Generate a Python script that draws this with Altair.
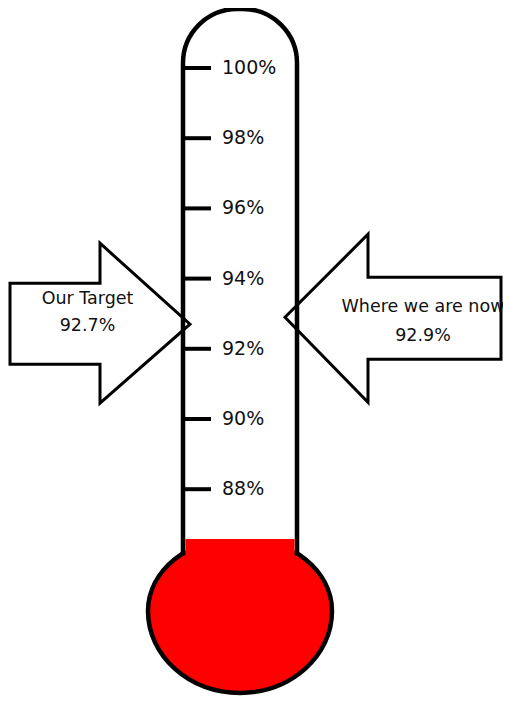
import altair as alt
import pandas as pd

# ---------------- data ----------------
tick_values = [88, 90, 92, 94, 96, 98, 100]
arrow_names = ["Our Target", "Where we are now"]
arrow_values = [92.7, 92.9]
arrow_sides = ["left", "right"]

# ---------------- layout (page pixels) ----------------
W, H = 495, 688
M = 8
K = 35.1          # pixels per percentage point
Y100 = 68         # page y of the 100% tick


def to_pct(page_y):
    return 100 - (page_y - Y100) / K


def to_page(v):
    return Y100 + (100 - v) * K


xs = alt.Scale(domain=[M, M + W], nice=False, zero=False)
ys = alt.Scale(domain=[to_pct(M + H), to_pct(M)], nice=False, zero=False)


def X(f="x"):
    return alt.X(f"{f}:Q", scale=xs, axis=None)


def Y(f="y"):
    return alt.Y(f"{f}:Q", scale=ys, axis=None)


TUBE_L, TUBE_R, TUBE_TOP, NECK_Y = 183, 297, 9, 553
BULB_CX, BULB_CY, BULB_RX = 240, 611, 92
FILL_TOP = 539
RED = "#ff0000"
INK = "#111111"
FONT = "DejaVu Sans"

# bulb: custom symbol path (upper half flatter than lower half)
BULB_PATH = "M -1 0 A 1 0.80 0 0 1 1 0 A 1 0.89 0 0 1 -1 0 Z"

bulb = alt.Chart(pd.DataFrame({"x": [BULB_CX], "y": [to_pct(BULB_CY)]})).mark_point(
    shape=BULB_PATH, size=(2 * BULB_RX) ** 2, filled=True, fill=RED,
    stroke="black", strokeWidth=4.5, opacity=1, fillOpacity=1, strokeOpacity=1
).encode(x=X(), y=Y())

tube = alt.Chart(pd.DataFrame({
    "x": [TUBE_L], "x2": [TUBE_R], "y": [to_pct(TUBE_TOP)], "y2": [to_pct(NECK_Y)]
})).mark_rect(
    fill="white", stroke="black", strokeWidth=4.5,
    cornerRadiusTopLeft=54, cornerRadiusTopRight=54
).encode(x=X(), x2="x2:Q", y=Y(), y2="y2:Q")

neck = alt.Chart(pd.DataFrame({
    "x": [TUBE_L + 2.4], "x2": [TUBE_R - 2.4], "y": [to_pct(FILL_TOP)], "y2": [to_pct(575)]
})).mark_rect(fill=RED, strokeWidth=0).encode(x=X(), x2="x2:Q", y=Y(), y2="y2:Q")

# tick marks and labels
tick_df = pd.DataFrame({"v": tick_values})
tick_df["x"] = TUBE_L
tick_df["x2"] = 211
tick_df["lx"] = 222
tick_df["label"] = [f"{v}%" for v in tick_values]

ticks = alt.Chart(tick_df).mark_rule(stroke="black", strokeWidth=4).encode(
    x=X(), x2="x2:Q", y=Y("v")
)
tick_labels = alt.Chart(tick_df).mark_text(
    align="left", baseline="middle", font=FONT, fontSize=19, color=INK
).encode(x=X("lx"), y=Y("v"), text="label:N")

# arrows: outline relative to the tip (tip sits at the value)
SHAPES = {
    "left": [(10, 0), (10, -41), (100, -41), (100, -81), (190, 0),
             (100, 79), (100, 40), (10, 40), (10, 0)],
    "right": [(501, 0), (501, -40), (368, -40), (368, -83), (285, 0),
              (368, 85), (368, 42), (501, 42), (501, 0)],
}
TEXT_POS = {"left": (87.5, -25, 2), "right": (423, -10, 19)}

rows, trows = [], []
for name, v, side in zip(arrow_names, arrow_values, arrow_sides):
    T = to_page(v)
    for i, (px, dy) in enumerate(SHAPES[side]):
        rows.append({"arrow": name, "i": i, "x": px, "y": to_pct(T + dy)})
    tx, d1, d2 = TEXT_POS[side]
    trows.append({"x": tx, "y": to_pct(T + d1), "t": name})
    trows.append({"x": tx, "y": to_pct(T + d2), "t": f"{v}%"})

arrows = alt.Chart(pd.DataFrame(rows)).mark_line(
    stroke="black", strokeWidth=3, strokeJoin="miter", strokeMiterLimit=10
).encode(x=X(), y=Y(), order="i:Q", detail="arrow:N")

arrow_text = alt.Chart(pd.DataFrame(trows)).mark_text(
    align="center", baseline="middle", font=FONT, fontSize=17.5, color=INK
).encode(x=X(), y=Y(), text="t:N")

chart = alt.layer(
    bulb, tube, neck, ticks, tick_labels, arrows, arrow_text
).properties(
    width=W, height=H, padding=0, background="white",
    autosize=alt.AutoSizeParams(type="none")
).configure_view(stroke=None, strokeWidth=0)

chart.save("out.html", embed_options={"renderer": "svg", "actions": False})
